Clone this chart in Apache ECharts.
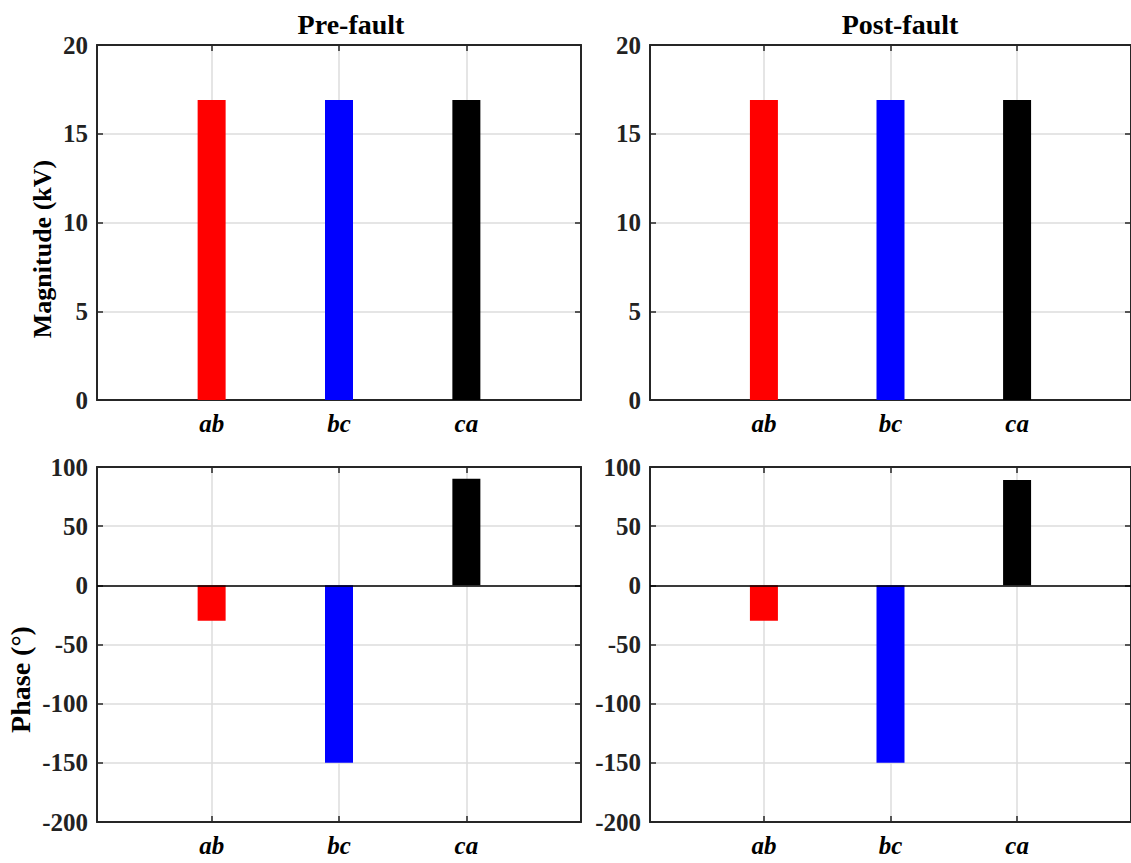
<!DOCTYPE html>
<html>
<head>
<meta charset="utf-8">
<script src="https://cdn.jsdelivr.net/npm/echarts@6/dist/echarts.min.js"></script>
<style>
  html, body { margin: 0; padding: 0; background: #fff; }
  #main { width: 1131px; height: 863px; }
</style>
</head>
<body>
<div id="main"></div>
<script>
// 数据
const categories = ['ab', 'bc', 'ca'];
const categoryPos = [1, 2, 3];
const preMagnitude = [16.9, 16.9, 16.9];
const postMagnitude = [16.9, 16.9, 16.9];
const prePhase = [-30, -150, 90];
const postPhase = [-30, -150, 89];
const barColors = ['#ff0000', '#0000ff', '#000000'];

const font = 'Liberation Serif';
const axisColor = '#262626';

const chart = echarts.init(document.getElementById('main'), null, { renderer: 'svg' });

// 四个子图的位置
const panels = [
  { left: 97, top: 45, values: preMagnitude, min: 0, max: 20, interval: 5,
    name: 'Magnitude (kV)', nameGap: 42, nameSize: 26, nameShift: 53 },
  { left: 650, top: 45, values: postMagnitude, min: 0, max: 20, interval: 5 },
  { left: 97, top: 467, values: prePhase, min: -200, max: 100, interval: 50,
    name: 'Phase (°)', nameGap: 63, nameSize: 28, nameShift: 70, baseline: true },
  { left: 650, top: 467, values: postPhase, min: -200, max: 100, interval: 50, baseline: true }
];

const grid = [], xAxis = [], yAxis = [], series = [];

panels.forEach((p, k) => {
  grid.push({ left: p.left, top: p.top, width: 484, height: 355 });
  // 底部 x 轴
  xAxis.push({
    type: 'value', gridIndex: k, min: 0.1, max: 3.9, position: 'bottom',
    axisLine: { show: true, onZero: false, lineStyle: { color: axisColor, width: 2 } },
    axisTick: { show: true, inside: true, length: 6, customValues: categoryPos, lineStyle: { color: axisColor, width: 1.5 } },
    axisLabel: {
      customValues: categoryPos, margin: 11,
      color: '#000', fontFamily: font, fontSize: 25, fontWeight: 'bold', fontStyle: 'italic',
      formatter: v => categories[Math.round(v) - 1] || ''
    },
    splitLine: { show: true, lineStyle: { color: '#dcdcdc', width: 1.5 } }
  });
  // 顶部 x 轴（边框）
  xAxis.push({
    type: 'value', gridIndex: k, min: 0.1, max: 3.9, position: 'top',
    axisLine: { show: true, onZero: false, lineStyle: { color: axisColor, width: 2 } },
    axisTick: { show: true, inside: true, length: 6, customValues: categoryPos, lineStyle: { color: axisColor, width: 1.5 } },
    axisLabel: { show: false },
    splitLine: { show: false }
  });
  // 左侧 y 轴
  yAxis.push({
    type: 'value', gridIndex: k, min: p.min, max: p.max, interval: p.interval, position: 'left',
    name: p.name || '', nameLocation: 'middle', nameGap: p.nameGap || 0, nameRotate: 90,
    nameTextStyle: {
      color: '#000', fontFamily: font, fontSize: p.nameSize || 25, fontWeight: 'bold',
      padding: [0, p.nameShift || 0, 0, 0]  // 名称向下偏移
    },
    axisLine: { show: true, onZero: false, lineStyle: { color: axisColor, width: 2 } },
    axisTick: { show: true, inside: true, length: 6, lineStyle: { color: axisColor, width: 1.5 } },
    axisLabel: { margin: 9, color: '#222', fontFamily: font, fontSize: 25, fontWeight: 'bold' },
    splitLine: { show: true, lineStyle: { color: '#dcdcdc', width: 1.5 } }
  });
  // 右侧 y 轴（边框）
  yAxis.push({
    type: 'value', gridIndex: k, min: p.min, max: p.max, interval: p.interval, position: 'right',
    axisLine: { show: true, onZero: false, lineStyle: { color: axisColor, width: 2 } },
    axisTick: { show: true, inside: true, length: 6, lineStyle: { color: axisColor, width: 1.5 } },
    axisLabel: { show: false },
    splitLine: { show: false }
  });

  const s = {
    type: 'bar',
    xAxisIndex: k * 2, yAxisIndex: k * 2,
    barWidth: 28,
    data: categoryPos.map((x, i) => ({ value: [x, p.values[i]], itemStyle: { color: barColors[i] } }))
  };
  if (p.baseline) {
    s.markLine = {
      silent: true, symbol: 'none', label: { show: false },
      lineStyle: { color: '#000', width: 1.5, type: 'solid' },
      data: [{ yAxis: 0 }]
    };
  }
  series.push(s);
});

chart.setOption({
  animation: false,
  backgroundColor: '#fff',
  title: [
    { text: 'Pre-fault', left: 346, top: 5, textAlign: 'center',
      textStyle: { color: '#000', fontFamily: font, fontSize: 28, fontWeight: 'bold' } },
    { text: 'Post-fault', left: 895, top: 5, textAlign: 'center',
      textStyle: { color: '#000', fontFamily: font, fontSize: 28, fontWeight: 'bold' } }
  ],
  grid: grid,
  xAxis: xAxis,
  yAxis: yAxis,
  series: series
});
</script>
</body>
</html>
